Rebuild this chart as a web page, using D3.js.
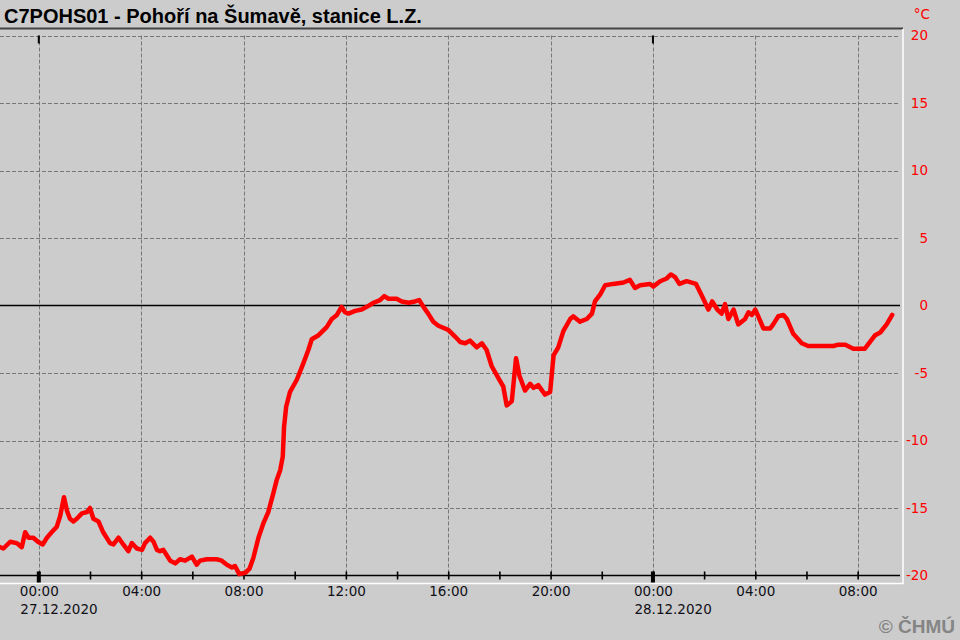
<!DOCTYPE html>
<html><head><meta charset="utf-8">
<script src="https://cdn.jsdelivr.net/npm/d3@7"></script>
<style>body{margin:0;background:#cccccc;} svg{display:block;}</style>
</head><body><svg id="c" width="960" height="640"></svg>
<script>
const title = "C7POHS01 - Pohoří na Šumavě, stanice L.Z.";
const unitLabel = "°C";
const credit = "© ČHMÚ";
const xDomain = ["2020-12-26T22:29", "2020-12-28T09:44"];
const yTicks = [-20, -15, -10, -5, 0, 5, 10, 15, 20];
const times = [
"2020-12-26T22:29","2020-12-26T22:37","2020-12-26T22:53","2020-12-26T23:08","2020-12-26T23:20","2020-12-26T23:28","2020-12-26T23:36","2020-12-26T23:47","2020-12-26T23:58",
"2020-12-27T00:09","2020-12-27T00:19","2020-12-27T00:30","2020-12-27T00:42","2020-12-27T00:50","2020-12-27T00:59","2020-12-27T01:06","2020-12-27T01:13","2020-12-27T01:21","2020-12-27T01:29","2020-12-27T01:41","2020-12-27T01:53",
"2020-12-27T02:00","2020-12-27T02:08","2020-12-27T02:20","2020-12-27T02:31","2020-12-27T02:47","2020-12-27T02:55","2020-12-27T03:07","2020-12-27T03:18","2020-12-27T03:30","2020-12-27T03:38","2020-12-27T03:50",
"2020-12-27T04:02","2020-12-27T04:09","2020-12-27T04:21","2020-12-27T04:29","2020-12-27T04:37","2020-12-27T04:44","2020-12-27T04:52","2020-12-27T05:00","2020-12-27T05:08","2020-12-27T05:20","2020-12-27T05:31","2020-12-27T05:43","2020-12-27T05:59",
"2020-12-27T06:10","2020-12-27T06:18","2020-12-27T06:34","2020-12-27T06:57","2020-12-27T07:09","2020-12-27T07:21","2020-12-27T07:33","2020-12-27T07:40","2020-12-27T07:50",
"2020-12-27T08:04","2020-12-27T08:14","2020-12-27T08:23","2020-12-27T08:35","2020-12-27T08:47","2020-12-27T08:58","2020-12-27T09:10","2020-12-27T09:18","2020-12-27T09:26","2020-12-27T09:32","2020-12-27T09:35","2020-12-27T09:40","2020-12-27T09:49",
"2020-12-27T10:05","2020-12-27T10:20","2020-12-27T10:32","2020-12-27T10:40","2020-12-27T10:56","2020-12-27T11:15","2020-12-27T11:27","2020-12-27T11:39","2020-12-27T11:50","2020-12-27T11:58",
"2020-12-27T12:06","2020-12-27T12:22","2020-12-27T12:37","2020-12-27T12:49","2020-12-27T13:05","2020-12-27T13:20","2020-12-27T13:30","2020-12-27T13:40","2020-12-27T13:59",
"2020-12-27T14:11","2020-12-27T14:27","2020-12-27T14:42","2020-12-27T14:52","2020-12-27T15:02","2020-12-27T15:13","2020-12-27T15:25","2020-12-27T15:37",
"2020-12-27T16:00","2020-12-27T16:16","2020-12-27T16:28","2020-12-27T16:40","2020-12-27T16:51","2020-12-27T17:07","2020-12-27T17:19","2020-12-27T17:30","2020-12-27T17:42","2020-12-27T17:58",
"2020-12-27T18:09","2020-12-27T18:17","2020-12-27T18:29","2020-12-27T18:39","2020-12-27T18:47","2020-12-27T19:00","2020-12-27T19:12","2020-12-27T19:20","2020-12-27T19:31","2020-12-27T19:47","2020-12-27T19:59",
"2020-12-27T20:07","2020-12-27T20:18","2020-12-27T20:30","2020-12-27T20:46","2020-12-27T20:53","2020-12-27T21:09","2020-12-27T21:25","2020-12-27T21:37","2020-12-27T21:44","2020-12-27T21:56",
"2020-12-27T22:08","2020-12-27T22:27","2020-12-27T22:51","2020-12-27T23:06","2020-12-27T23:18","2020-12-27T23:30","2020-12-27T23:53",
"2020-12-28T00:01","2020-12-28T00:17","2020-12-28T00:32","2020-12-28T00:42","2020-12-28T00:52","2020-12-28T01:02","2020-12-28T01:19","2020-12-28T01:41","2020-12-28T01:55",
"2020-12-28T02:10","2020-12-28T02:19","2020-12-28T02:31","2020-12-28T02:41","2020-12-28T02:49","2020-12-28T02:57","2020-12-28T03:09","2020-12-28T03:20","2020-12-28T03:36","2020-12-28T03:44","2020-12-28T03:52",
"2020-12-28T04:00","2020-12-28T04:07","2020-12-28T04:19","2020-12-28T04:35","2020-12-28T04:42","2020-12-28T04:54","2020-12-28T05:06","2020-12-28T05:14","2020-12-28T05:29","2020-12-28T05:49",
"2020-12-28T06:04","2020-12-28T07:03","2020-12-28T07:15","2020-12-28T07:31","2020-12-28T07:50","2020-12-28T08:17","2020-12-28T08:29","2020-12-28T08:41","2020-12-28T08:53","2020-12-28T09:08","2020-12-28T09:21"
];
const temps = [
-17.9,-18.0,-17.5,-17.6,-17.9,-16.8,-17.2,-17.2,-17.5,
-17.7,-17.2,-16.8,-16.4,-15.6,-14.2,-15.2,-15.8,-16.0,-15.8,-15.4,-15.3,
-15.0,-15.8,-16.0,-16.8,-17.6,-17.7,-17.2,-17.7,-18.2,-17.6,-18.0,
-18.1,-17.6,-17.2,-17.5,-18.1,-18.2,-18.1,-18.5,-18.9,-19.1,-18.8,-18.9,-18.6,
-19.2,-18.9,-18.8,-18.8,-18.9,-19.2,-19.4,-19.3,-19.9,
-19.8,-19.5,-18.7,-17.2,-16.1,-15.3,-13.9,-12.9,-12.2,-11.2,-9.0,-7.5,-6.4,
-5.5,-4.3,-3.3,-2.5,-2.2,-1.6,-1.0,-0.7,-0.1,-0.5,
-0.6,-0.4,-0.3,-0.1,0.2,0.4,0.7,0.5,0.5,
0.3,0.2,0.3,0.4,-0.1,-0.6,-1.2,-1.5,
-1.8,-2.3,-2.7,-2.8,-2.6,-3.1,-2.8,-3.3,-4.5,-5.4,
-6.0,-7.4,-7.1,-3.9,-5.2,-6.3,-5.8,-6.1,-5.9,-6.6,-6.4,
-3.7,-3.1,-1.9,-1.0,-0.8,-1.2,-1.0,-0.6,0.3,0.8,
1.5,1.6,1.7,1.9,1.3,1.5,1.6,
1.4,1.8,2.0,2.3,2.1,1.6,1.8,1.6,0.7,
-0.3,0.3,-0.3,-0.6,0.1,-1.0,-0.3,-1.4,-1.0,-0.5,-0.7,
-0.3,-0.8,-1.7,-1.7,-1.4,-0.8,-0.7,-1.0,-2.1,-2.8,
-3.0,-3.0,-2.9,-2.9,-3.2,-3.2,-2.7,-2.2,-2.0,-1.4,-0.7
];

const parse = d3.utcParse("%Y-%m-%dT%H:%M");
const data = times.map((t, i) => ({t: parse(t), v: temps[i]}));

const svg = d3.select("#c");
const plotL = 0, plotR = 902, yTop = 35.5, yBot = 575.5;
const x = d3.scaleUtc().domain(xDomain.map(parse)).range([plotL, plotR]);
const y = d3.scaleLinear().domain([-20, 20]).range([yBot, yTop]);

svg.append("rect").attr("width", 960).attr("height", 640).attr("fill", "#cccccc");

// frame
svg.append("line").attr("x1", 0).attr("x2", 903).attr("y1", 28.5).attr("y2", 28.5)
  .attr("stroke", "#454545").attr("stroke-width", 2);
svg.append("line").attr("x1", 903).attr("x2", 903).attr("y1", 29).attr("y2", 584)
  .attr("stroke", "#ffffff").attr("stroke-width", 1.5);
svg.append("line").attr("x1", 0).attr("x2", 903.5).attr("y1", 583.5).attr("y2", 583.5)
  .attr("stroke", "#ffffff").attr("stroke-width", 1.5);

// vertical grid every 4 hours
const grid4 = d3.utcHour.every(4).range(x.domain()[0], x.domain()[1]);
svg.append("g").selectAll("line").data(grid4).join("line")
  .attr("x1", d => Math.round(x(d)) + 0.5).attr("x2", d => Math.round(x(d)) + 0.5)
  .attr("y1", yTop).attr("y2", yBot)
  .attr("stroke", "#777").attr("stroke-width", 1).attr("stroke-dasharray", "4,2");

// horizontal grid
svg.append("g").selectAll("line").data(yTicks.filter(v => v !== 0 && v !== -20)).join("line")
  .attr("x1", 0).attr("x2", 898)
  .attr("y1", d => Math.round(y(d)) + 0.5).attr("y2", d => Math.round(y(d)) + 0.5)
  .attr("stroke", "#777").attr("stroke-width", 1).attr("stroke-dasharray", "4,2");

// zero line
svg.append("line").attr("x1", 0).attr("x2", 900).attr("y1", y(0)).attr("y2", y(0))
  .attr("stroke", "#000").attr("stroke-width", 1.6);

// bottom axis line
svg.append("line").attr("x1", 0).attr("x2", 900).attr("y1", y(-20)).attr("y2", y(-20))
  .attr("stroke", "#000").attr("stroke-width", 1.6);

// minor ticks every 2 hours
const ticks2 = d3.utcHour.every(2).range(x.domain()[0], x.domain()[1]);
const minorAxis = d3.axisBottom(x).tickValues(ticks2).tickSize(8).tickFormat("");
const gm = svg.append("g").attr("transform", `translate(0,${yBot - 4})`).call(minorAxis);
gm.select(".domain").remove();
gm.selectAll(".tick line").attr("stroke", "#000").attr("stroke-width", 1.6);

// midnight major ticks (bottom and top)
const days = ticks2.filter(d => d.getUTCHours() === 0);
svg.append("g").selectAll("rect").data(days).join("rect")
  .attr("x", d => x(d) - 2).attr("width", 4).attr("y", yBot - 4).attr("height", 11).attr("fill", "#000");
svg.append("g").selectAll("rect").data(days).join("rect")
  .attr("x", d => x(d) - 1).attr("width", 2).attr("y", yTop).attr("height", 8).attr("fill", "#000");

// x labels
const fmtT = d3.utcFormat("%H:%M"), fmtD = d3.utcFormat("%d.%m.%Y");
const labAxis = d3.axisBottom(x).tickValues(grid4).tickSize(0).tickPadding(0).tickFormat(fmtT);
const gl = svg.append("g").attr("transform", `translate(0,585)`).call(labAxis);
gl.select(".domain").remove();
gl.selectAll(".tick text").attr("font-family", "DejaVu Sans, sans-serif").attr("font-size", 13.5)
  .attr("fill", "#101018").attr("dy", "0.71em").attr("y", 1);
svg.append("g").selectAll("text").data(days).join("text")
  .attr("x", d => x(d) - 18.5).attr("y", 614)
  .attr("font-family", "DejaVu Sans, sans-serif").attr("font-size", 13.5).attr("fill", "#101018")
  .text(fmtD);

// y labels
const yAxis = d3.axisRight(y).tickValues(yTicks).tickSize(0).tickPadding(0).tickFormat(d3.format("d"));
const gy = svg.append("g").attr("transform", "translate(928,0)").call(yAxis);
gy.select(".domain").remove();
gy.selectAll(".tick text").attr("text-anchor", "end").attr("x", 0)
  .attr("font-family", "DejaVu Sans, sans-serif").attr("font-size", 13.5).attr("fill", "#ff0000")
  .text(d => d < 0 ? "-" + Math.abs(d) : d);
svg.append("text").attr("x", 930).attr("y", 19).attr("text-anchor", "end")
  .attr("font-family", "DejaVu Sans, sans-serif").attr("font-size", 13.5).attr("fill", "#ff0000")
  .text(unitLabel);

// title
svg.append("text").attr("x", 4).attr("y", 22.5)
  .attr("font-family", "Liberation Sans, Arial, sans-serif").attr("font-weight", "bold").attr("font-size", 20)
  .attr("fill", "#000").text(title);

// credit
svg.append("text").attr("x", 955).attr("y", 633).attr("text-anchor", "end")
  .attr("font-family", "Liberation Sans, Arial, sans-serif").attr("font-weight", "bold").attr("font-size", 19)
  .attr("fill", "#858585").text(credit);

// data line
const line = d3.line().x(d => x(d.t)).y(d => y(d.v));
svg.append("path").datum(data).attr("d", line)
  .attr("fill", "none").attr("stroke", "#ff0000").attr("stroke-width", 4.5)
  .attr("stroke-linejoin", "round").attr("stroke-linecap", "round");
</script>
</body></html>
